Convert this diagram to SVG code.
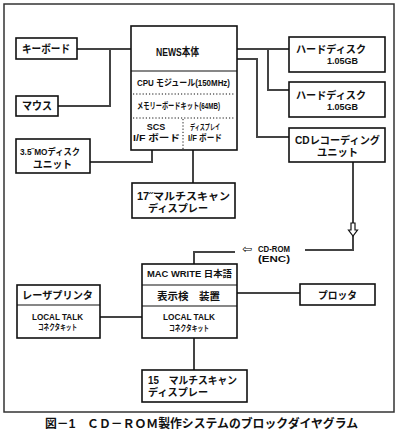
<svg xmlns="http://www.w3.org/2000/svg" width="400" height="436" viewBox="0 0 400 436">
<style>
.box{fill:#fff;stroke:#111;stroke-width:1.6}
.div{stroke:#111;stroke-width:1.2}
.dot{stroke:#111;stroke-width:1;stroke-dasharray:1.2 2}
.t{font-family:"Liberation Sans","Noto Sans CJK JP",sans-serif;font-weight:bold;font-size:10.5px;fill:#111;dominant-baseline:central}
.s{font-size:9px}
.xs{font-size:8px}
.ar{font-family:"DejaVu Sans",sans-serif;font-weight:normal;fill:#000}
.conn{fill:none;stroke:#444;stroke-width:2}
.harrow{fill:#fff;stroke:#111;stroke-width:1.2;stroke-linejoin:miter}
</style>
<rect width="400" height="436" fill="#fff"/>
<rect x="4" y="4" width="390" height="408" fill="none" stroke="#333" stroke-width="1.5"/>

<g id="connectors">
<path class="conn" d="M77,49 H131"/>
<path class="conn" d="M58,106 H110 V49"/>
<path class="conn" d="M237,49 H289"/>
<path class="conn" d="M268,49 V90 H289"/>
<path class="conn" d="M237,59 H257 V137 H289"/>
<path class="conn" d="M152,150 V162 H90"/>
<path class="conn" d="M193,150 V183"/>
<path class="conn" d="M353,162 V223"/>
<path class="conn" d="M353,236 V250 H305"/>
<path class="conn" d="M235,252 H194 V264"/>
<path class="conn" d="M100,317 H142"/>
<path class="conn" d="M237,293 H300"/>
<path class="conn" d="M194,338 V370"/>
<polygon class="harrow" points="351,223 355,223 355,230 357.5,230 353,236 348.5,230 351,230"/>
</g>

<g id="cdrom-label">
<text class="t" x="242" y="249" style="font-size:8.5px"><tspan class="ar" style="font-size:12px">⇦</tspan><tspan x="258" textLength="32" lengthAdjust="spacingAndGlyphs">CD-ROM</tspan></text>
<text class="t" x="258" y="259" style="font-size:8.5px" textLength="32" lengthAdjust="spacingAndGlyphs">(ENC)</text>
</g>

<g id="keyboard">
<rect class="box" x="16" y="38" width="61" height="21"/>
<text class="t" x="22" y="49" style="font-size:11px" textLength="48" lengthAdjust="spacingAndGlyphs">キーボード</text>
</g>

<g id="mouse">
<rect class="box" x="16" y="96" width="42" height="20"/>
<text class="t" x="22" y="106" style="font-size:11px" textLength="30" lengthAdjust="spacingAndGlyphs">マウス</text>
</g>

<g id="news">
<rect class="box" x="131" y="26" width="106" height="124"/>
<line class="div" x1="131" y1="71" x2="237" y2="71"/>
<line class="dot" x1="133" y1="94" x2="235" y2="94"/>
<line class="dot" x1="133" y1="118" x2="235" y2="118"/>
<line class="dot" x1="183" y1="119" x2="183" y2="150"/>
<text class="t" x="156" y="52" style="font-size:11px" textLength="43" lengthAdjust="spacingAndGlyphs">NEWS本体</text>
<text class="t s" x="137" y="83" textLength="93" lengthAdjust="spacingAndGlyphs">CPU モジュール(150MHz)</text>
<text class="t s" x="137" y="106" textLength="83" lengthAdjust="spacingAndGlyphs">メモリーボードキット(64MB)</text>
<text class="t s" x="156" y="127" text-anchor="middle">SCS</text>
<text class="t s" x="133" y="138" textLength="47" lengthAdjust="spacingAndGlyphs">I/F ボード</text>
<text class="t xs" x="190" y="127" textLength="30" lengthAdjust="spacingAndGlyphs">ディスプレイ</text>
<text class="t s" x="188" y="138" textLength="34" lengthAdjust="spacingAndGlyphs">I/F ボード</text>
</g>

<g id="hd1">
<rect class="box" x="289" y="37" width="96" height="35"/>
<text class="t" x="296" y="49" textLength="70" lengthAdjust="spacingAndGlyphs">ハードディスク</text>
<text class="t s" x="327" y="61" textLength="31" lengthAdjust="spacingAndGlyphs">1.05GB</text>
</g>

<g id="hd2">
<rect class="box" x="289" y="82" width="96" height="35"/>
<text class="t" x="296" y="95" textLength="70" lengthAdjust="spacingAndGlyphs">ハードディスク</text>
<text class="t s" x="327" y="107" textLength="31" lengthAdjust="spacingAndGlyphs">1.05GB</text>
</g>

<g id="cdrec">
<rect class="box" x="289" y="128" width="96" height="34"/>
<text class="t" x="295" y="140" textLength="85" lengthAdjust="spacingAndGlyphs">CDレコーディング</text>
<text class="t" x="317" y="152" textLength="41" lengthAdjust="spacingAndGlyphs">ユニット</text>
</g>

<g id="mo">
<rect class="box" x="16" y="139" width="74" height="34"/>
<text class="t s" x="20" y="152" textLength="60" lengthAdjust="spacingAndGlyphs">3.5˝MOディスク</text>
<text class="t" x="33" y="164" textLength="39" lengthAdjust="spacingAndGlyphs">ユニット</text>
</g>

<g id="disp17">
<rect class="box" x="132" y="183" width="103" height="35"/>
<text class="t" x="137" y="196" textLength="93" lengthAdjust="spacingAndGlyphs">17˝マルチスキャン</text>
<text class="t" x="148" y="208" textLength="60" lengthAdjust="spacingAndGlyphs">ディスプレー</text>
</g>

<g id="mac">
<rect class="box" x="142" y="264" width="95" height="74"/>
<line class="div" x1="142" y1="285" x2="237" y2="285"/>
<line class="div" x1="142" y1="306" x2="237" y2="306"/>
<text class="t s" x="147" y="274" textLength="85" lengthAdjust="spacingAndGlyphs">MAC WRITE 日本語</text>
<text class="t" x="157" y="296" textLength="63" lengthAdjust="spacingAndGlyphs">表示検　装置</text>
<text class="t s" x="163" y="317" textLength="52" lengthAdjust="spacingAndGlyphs">LOCAL TALK</text>
<text class="t xs" x="169" y="328" textLength="40" lengthAdjust="spacingAndGlyphs">コネクタキット</text>
</g>

<g id="laser">
<rect class="box" x="17" y="285" width="83" height="53"/>
<line class="div" x1="17" y1="305" x2="100" y2="305"/>
<text class="t" x="22" y="295" textLength="71" lengthAdjust="spacingAndGlyphs">レーザプリンタ</text>
<text class="t s" x="32" y="317" textLength="51" lengthAdjust="spacingAndGlyphs">LOCAL TALK</text>
<text class="t xs" x="38" y="327" textLength="39" lengthAdjust="spacingAndGlyphs">コネクタキット</text>
</g>

<g id="plotter">
<rect class="box" x="300" y="284" width="75" height="21"/>
<text class="t" x="318" y="295" textLength="39" lengthAdjust="spacingAndGlyphs">プロッタ</text>
</g>

<g id="disp15">
<rect class="box" x="142" y="370" width="105" height="32"/>
<text class="t" x="148" y="380" textLength="89" lengthAdjust="spacingAndGlyphs">15　マルチスキャン</text>
<text class="t" x="148" y="392" textLength="60" lengthAdjust="spacingAndGlyphs">ディスプレー</text>
</g>

<text class="t" x="45" y="424" style="font-size:12px" textLength="313" lengthAdjust="spacingAndGlyphs">図－1　ＣＤ－ＲＯＭ製作システムのブロックダイヤグラム</text>
</svg>
